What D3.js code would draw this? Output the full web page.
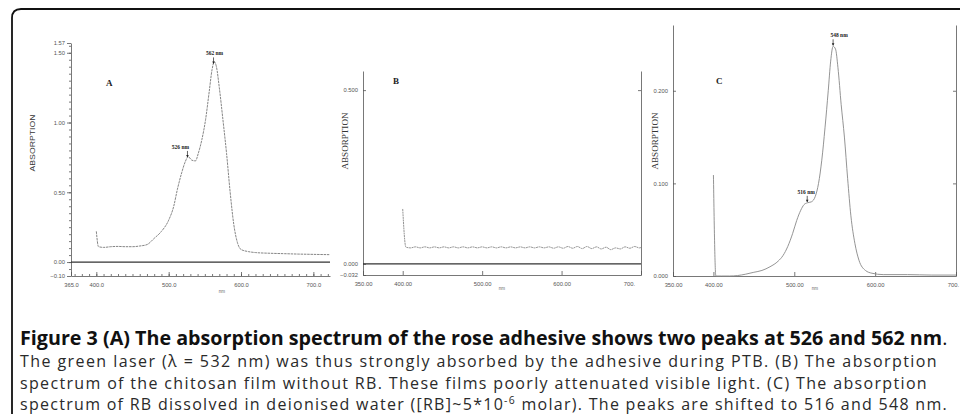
<!DOCTYPE html>
<html>
<head>
<meta charset="utf-8">
<script src="https://cdn.jsdelivr.net/npm/d3@7"></script>
<style>
  body { margin: 0; background: #fff; }
  svg { display: block; }
  .tick text { font-family: "Liberation Sans", Arial, sans-serif; font-size: 5.8px; fill: #555; }
  .tick line, .domain { stroke: #555; stroke-width: 0.8; }
</style>
</head>
<body>
<svg id="chart" width="960" height="414"></svg>
<script>
// ---- data ----
var aWave = [400, 403, 410, 420, 430, 440, 450, 460, 470, 480, 490, 500, 507, 512, 518, 523, 527, 532, 537, 541, 546, 551, 556, 560, 563, 566, 570, 575, 580, 585, 590, 595, 600, 610, 620, 640, 660, 680, 700, 722];
var aAbs  = [0.22, 0.11, 0.105, 0.11, 0.112, 0.11, 0.11, 0.115, 0.125, 0.17, 0.22, 0.30, 0.40, 0.52, 0.64, 0.72, 0.755, 0.73, 0.725, 0.78, 0.88, 1.02, 1.22, 1.38, 1.435, 1.40, 1.25, 1.02, 0.78, 0.50, 0.27, 0.14, 0.09, 0.075, 0.068, 0.063, 0.06, 0.057, 0.055, 0.053];

var bWave = [400, 404, 410, 416, 422, 428, 434, 440, 446, 452, 458, 464, 470, 476, 482, 488, 494, 500, 506, 512, 518, 524, 530, 536, 542, 548, 554, 560, 566, 572, 578, 584, 590, 596, 602, 608, 614, 620, 626, 632, 638, 644, 650, 656, 662, 668, 674, 680, 686, 692, 698, 700];
var bAbs  = [0.158, 0.048, 0.046, 0.049, 0.046, 0.049, 0.046, 0.049, 0.046, 0.049, 0.046, 0.049, 0.046, 0.049, 0.046, 0.049, 0.046, 0.049, 0.046, 0.049, 0.046, 0.049, 0.046, 0.049, 0.046, 0.049, 0.046, 0.049, 0.046, 0.049, 0.046, 0.049, 0.045, 0.049, 0.045, 0.050, 0.045, 0.050, 0.044, 0.050, 0.044, 0.049, 0.043, 0.048, 0.041, 0.046, 0.043, 0.049, 0.045, 0.050, 0.046, 0.047];

var cWave = [400, 403, 410, 420, 430, 440, 450, 460, 470, 480, 486, 492, 498, 503, 508, 512, 516, 521, 526, 530, 534, 538, 542, 545, 548, 551, 554, 558, 562, 566, 570, 575, 580, 588, 596, 610, 640, 670, 700];
var cAbs  = [0.109, 0.0, 0.0, 0.0, 0.0005, 0.002, 0.004, 0.006, 0.010, 0.016, 0.022, 0.032, 0.046, 0.060, 0.071, 0.077, 0.079, 0.080, 0.086, 0.100, 0.125, 0.160, 0.200, 0.232, 0.248, 0.245, 0.225, 0.185, 0.150, 0.105, 0.065, 0.035, 0.017, 0.006, 0.003, 0.0015, 0.0015, 0.001, 0.001];

var aXTicks = [365, 400, 500, 600, 700];
var aYTicks = [1.57, 1.50, 1.00, 0.50, 0.00, -0.10];
var bXTicks = [350, 400, 500, 600, 700];
var bYTicks = [0.5, 0.0, -0.032];
var cXTicks = [350, 400, 500, 600, 700];
var cYTicks = [0.2, 0.1, 0.0];

var aPeaks = [526, 562];
var cPeaks = [516, 548];

var captionBold = "Figure 3 (A) The absorption spectrum of the rose adhesive shows two peaks at 526 and 562 nm";
var captionLines = [
    "The green laser (\u03bb = 532 nm) was thus strongly absorbed by the adhesive during PTB. (B) The absorption",
    "spectrum of the chitosan film without RB. These films poorly attenuated visible light. (C) The absorption"
];
var captionLast = ["spectrum of RB dissolved in deionised water ([RB]~5*10", "-6", " molar). The peaks are shifted to 516 and 548 nm."];

var svg = d3.select("#chart");

// frame with rounded top-left corner
svg.append("path")
    .attr("d", "M12,414 L12,18 Q12,9 21,9 L962,9")
    .attr("fill", "none")
    .attr("stroke", "#111")
    .attr("stroke-width", 1.8);

function drawPanel(p) {
    var g = svg.append("g");
    var x = d3.scaleLinear().domain(p.xDomain).range(p.xRange);
    var y = d3.scaleLinear().domain(p.yDomain).range(p.yRange);

    // x axis
    var xAxis = g.append("g")
        .attr("transform", "translate(0," + p.yRange[0] + ")")
        .call(d3.axisBottom(x).tickValues(p.xTicks).tickSize(-p.xTickLen).tickSizeOuter(0)
            .tickPadding(7).tickFormat(p.xFormat));
    if (p.xClip) {
        xAxis.selectAll("text").filter(function (d) { return x(d) > p.xClip; })
            .attr("dx", p.xClipDx)
            .text(function (d) { return p.xFormat(d).slice(0, 4); });
    }
    if (p.xMinor) {
        g.append("g")
            .attr("transform", "translate(0," + p.yRange[0] + ")")
            .call(d3.axisBottom(x).tickValues(p.xMinor).tickSize(-2).tickSizeOuter(0).tickFormat(""))
            .select(".domain").remove();
    }

    // y axis
    g.append("g")
        .attr("transform", "translate(" + p.xRange[0] + ",0)")
        .call(d3.axisLeft(y).tickValues(p.yTicks).tickSize(p.yTickLen).tickSizeOuter(0)
            .tickPadding(p.yTickLen > 0 ? 2 : 5).tickFormat(p.yFormat));
    if (p.yMinor) {
        g.append("g")
            .attr("transform", "translate(" + p.xRange[0] + ",0)")
            .call(d3.axisLeft(y).tickValues(p.yMinor).tickSize(2).tickSizeOuter(0).tickFormat(""))
            .select(".domain").remove();
    }
    if (p.rightAxis) {
        g.append("g")
            .attr("transform", "translate(" + p.xRange[1] + ",0)")
            .call(d3.axisRight(y).tickValues(p.yTicks.filter(function (d) { return d > 0; }))
                .tickSize(-3).tickSizeOuter(0).tickFormat(""));
    }

    // zero line
    if (p.zeroLine) {
        g.append("line")
            .attr("x1", p.xRange[0]).attr("x2", p.xRange[1])
            .attr("y1", y(0)).attr("y2", y(0))
            .attr("stroke", "#333").attr("stroke-width", 1.3);
    }

    // spectrum
    var pts = p.wave.map(function (w, i) { return [w, p.abs[i]]; });
    g.append("path")
        .datum(pts)
        .attr("fill", "none")
        .attr("stroke", p.lineColor)
        .attr("stroke-width", 0.9)
        .attr("stroke-dasharray", p.dash)
        .attr("d", d3.line().x(function (d) { return x(d[0]); }).y(function (d) { return y(d[1]); })
            .curve(d3.curveMonotoneX));

    // panel letter
    g.append("text")
        .attr("x", p.letterPos[0]).attr("y", p.letterPos[1])
        .attr("font-family", "Liberation Serif, serif")
        .attr("font-weight", "bold")
        .attr("font-size", 9)
        .attr("fill", "#222")
        .text(p.letter);

    // y title
    g.append("text")
        .attr("transform", "translate(" + p.titleX + "," + p.titleY + ") rotate(-90)")
        .attr("text-anchor", "middle")
        .attr("font-family", p.titleFont)
        .attr("font-size", 7.5)
        .attr("textLength", 57)
        .attr("lengthAdjust", "spacingAndGlyphs")
        .attr("fill", "#333")
        .text("ABSORPTION");

    // nm label
    g.append("text")
        .attr("x", p.nmPos[0]).attr("y", p.nmPos[1])
        .attr("text-anchor", "middle")
        .attr("font-family", "Liberation Sans, sans-serif")
        .attr("font-size", 4.5)
        .attr("fill", "#666")
        .text("nm");

    // peak marks
    (p.peaks || []).forEach(function (nm, i) {
        var i0 = d3.bisectLeft(p.wave, nm);
        var w0 = p.wave[Math.max(i0 - 1, 0)], w1 = p.wave[i0];
        var v = p.abs[Math.max(i0 - 1, 0)] + (p.abs[i0] - p.abs[Math.max(i0 - 1, 0)]) * (w1 === w0 ? 0 : (nm - w0) / (w1 - w0));
        var px = x(nm), py = y(v);
        g.append("line")
            .attr("x1", px).attr("x2", px)
            .attr("y1", py - 7).attr("y2", py - 1)
            .attr("stroke", "#222").attr("stroke-width", 0.7);
        g.append("path")
            .attr("d", "M" + (px - 1.3) + "," + (py - 3) + "L" + (px + 1.3) + "," + (py - 3) + "L" + px + "," + (py - 0.5) + "Z")
            .attr("fill", "#222");
        g.append("text")
            .attr("x", px + p.peakDx[i]).attr("y", py - 9)
            .attr("text-anchor", "middle")
            .attr("font-family", "Liberation Serif, serif")
            .attr("font-weight", "bold")
            .attr("font-size", 5.5)
            .attr("fill", "#222")
            .text(nm + " nm");
    });
}

drawPanel({
    wave: aWave, abs: aAbs,
    xDomain: [365, 723], xRange: [71, 330],
    yDomain: [-0.10, 1.57], yRange: [276, 43],
    xTicks: aXTicks, yTicks: aYTicks, xTickLen: 4, yTickLen: 4,
    xMinor: d3.range(370, 721, 10), yMinor: d3.range(-0.05, 1.56, 0.05),
    xFormat: d3.format(".1f"), yFormat: d3.format(".2f"),
    zeroLine: true, rightAxis: false,
    lineColor: "#777", dash: "2.5,0.8",
    letter: "A", letterPos: [106, 86],
    titleX: 35, titleY: 143, titleFont: "Liberation Sans, sans-serif",
    nmPos: [222, 293],
    peaks: aPeaks, peakDx: [-7, 1]
});

drawPanel({
    wave: bWave, abs: bAbs,
    xDomain: [350, 700], xRange: [363, 641],
    yDomain: [-0.032, 0.555], yRange: [275, 71],
    xTicks: bXTicks, yTicks: bYTicks, xTickLen: 4, yTickLen: -3,
    xFormat: d3.format(".2f"), yFormat: d3.format(".3f"), xClip: 630, xClipDx: -12,
    zeroLine: true, rightAxis: true,
    lineColor: "#888", dash: "2,0.6",
    letter: "B", letterPos: [393, 84],
    titleX: 348, titleY: 141, titleFont: "Liberation Serif, serif",
    nmPos: [502, 290],
    peaks: [], peakDx: []
});

drawPanel({
    wave: cWave, abs: cAbs,
    xDomain: [350, 700], xRange: [673, 956],
    yDomain: [0, 0.271], yRange: [276, 25],
    xTicks: cXTicks, yTicks: cYTicks, xTickLen: 4, yTickLen: -3,
    xFormat: d3.format(".2f"), yFormat: d3.format(".3f"), xClip: 950, xClipDx: -3,
    zeroLine: false, rightAxis: true,
    lineColor: "#888", dash: null,
    letter: "C", letterPos: [716, 84],
    titleX: 658, titleY: 141, titleFont: "Liberation Serif, serif",
    nmPos: [815, 290],
    peaks: cPeaks, peakDx: [-1, 6]
});

// caption
var capFont = "'Open Sans', 'Noto Sans', sans-serif";
var capY = [345, 367, 389, 410];
var capWidth = [928, 918, 908, 928];
var capSize = 16;

// bold line: scale the font to the line width
function fitSize(t, target) {
    var w = t.node().getComputedTextLength();
    t.attr("font-size", (capSize * target / w).toFixed(2));
}
// regular lines: widen letter spacing so each line ends where it does in the figure
function fitSpacing(t, target) {
    var w = t.node().getComputedTextLength();
    var n = t.text().length;
    t.attr("letter-spacing", ((target - w) / n).toFixed(3));
}

var l1 = svg.append("text")
    .attr("x", 20).attr("y", capY[0])
    .attr("font-family", capFont).attr("font-size", capSize).attr("fill", "#111");
l1.append("tspan").attr("font-weight", "bold").text(captionBold);
l1.append("tspan").text(".");
fitSize(l1, capWidth[0]);

captionLines.forEach(function (s, i) {
    var t = svg.append("text")
        .attr("x", 20).attr("y", capY[i + 1])
        .attr("font-family", capFont).attr("font-size", capSize).attr("fill", "#2a2a2a")
        .text(s);
    fitSpacing(t, capWidth[i + 1]);
});

var l4 = svg.append("text")
    .attr("x", 20).attr("y", capY[3])
    .attr("font-family", capFont).attr("font-size", capSize).attr("fill", "#2a2a2a");
l4.append("tspan").text(captionLast[0]);
l4.append("tspan").attr("dy", -6).attr("font-size", "0.65em").text(captionLast[1]);
l4.append("tspan").attr("dy", 6).text(captionLast[2]);
fitSpacing(l4, capWidth[3]);
</script>
</body>
</html>
